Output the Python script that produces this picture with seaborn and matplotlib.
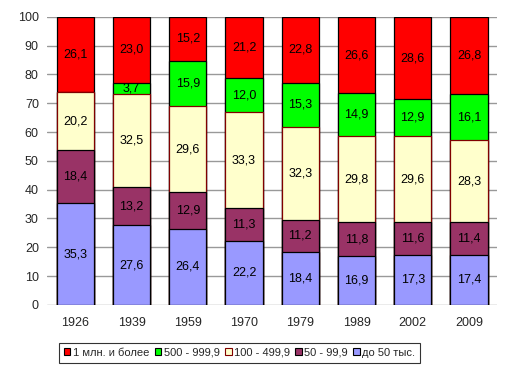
import matplotlib
matplotlib.use("Agg")
import matplotlib.pyplot as plt
import seaborn as sns
import numpy as np
import pandas as pd
from matplotlib.patches import Patch

years = ["1926", "1939", "1959", "1970", "1979", "1989", "2002", "2009"]
s_50 = [35.3, 27.6, 26.4, 22.2, 18.4, 16.9, 17.3, 17.4]
s_50_99 = [18.4, 13.2, 12.9, 11.3, 11.2, 11.8, 11.6, 11.4]
s_100_499 = [20.2, 32.5, 29.6, 33.3, 32.3, 29.8, 29.6, 28.3]
s_500_999 = [0.0, 3.7, 15.9, 12.0, 15.3, 14.9, 12.9, 16.1]
s_1m = [26.1, 23.0, 15.2, 21.2, 22.8, 26.6, 28.6, 26.8]

names = ["до 50 тыс.", "50 - 99,9", "100 - 499,9", "500 - 999,9", "1 млн. и более"]
series = [s_50, s_50_99, s_100_499, s_500_999, s_1m]
colors = ["#9999FF", "#993366", "#FFFFCC", "#00FF00", "#FF0000"]
edges = ["#000000", "#000000", "#800000", "#000000", "#000000"]

sns.set_style("white")
plt.rcParams['font.family'] = ['Liberation Sans', 'DejaVu Sans']

fig = plt.figure(figsize=(5.13, 3.75), dpi=100)
ax = fig.add_axes([0.092, 0.187, 0.877, 0.768])

arr = np.array(series)
cum = np.cumsum(arr, axis=0)

# draw from top layer (largest cumulative) down
for i in range(len(series) - 1, -1, -1):
    df = pd.DataFrame({"year": years, "val": cum[i]})
    sns.barplot(data=df, x="year", y="val", color=colors[i], saturation=1,
                width=0.66, edgecolor=edges[i], linewidth=0.9, ax=ax, zorder=3)

for i in range(len(series)):
    for j, y in enumerate(years):
        v = arr[i, j]
        if v <= 0:
            continue
        mid = cum[i, j] - v / 2
        ax.text(j, mid, f"{v:.1f}".replace(".", ","), ha="center", va="center",
                fontsize=9, color="black", zorder=5)

ax.set_ylim(0, 100)
ax.set_xlim(-0.5, len(years) - 0.5)
ax.set_yticks(range(0, 101, 10))
ax.yaxis.grid(True, color="#999999", linewidth=1)
ax.set_axisbelow(True)
for sp in ax.spines.values():
    sp.set_visible(False)
ax.set_xlabel("")
ax.set_ylabel("")
ax.tick_params(axis="both", labelsize=9, length=0, pad=6)
ax.tick_params(axis="x", pad=9)

handles = [Patch(facecolor=colors[i], edgecolor=edges[i], linewidth=0.8, label=names[i])
           for i in range(len(series) - 1, -1, -1)]
leg = fig.legend(handles=handles, loc="center", bbox_to_anchor=(0.467, 0.059), ncol=5,
                 fontsize=8, frameon=True, fancybox=False, edgecolor="black",
                 handlelength=0.6, handleheight=0.6, handletextpad=0.2, columnspacing=0.5,
                 borderpad=0.45, borderaxespad=0)
leg.get_frame().set_linewidth(0.8)

fig.savefig("out.png", dpi=100)
